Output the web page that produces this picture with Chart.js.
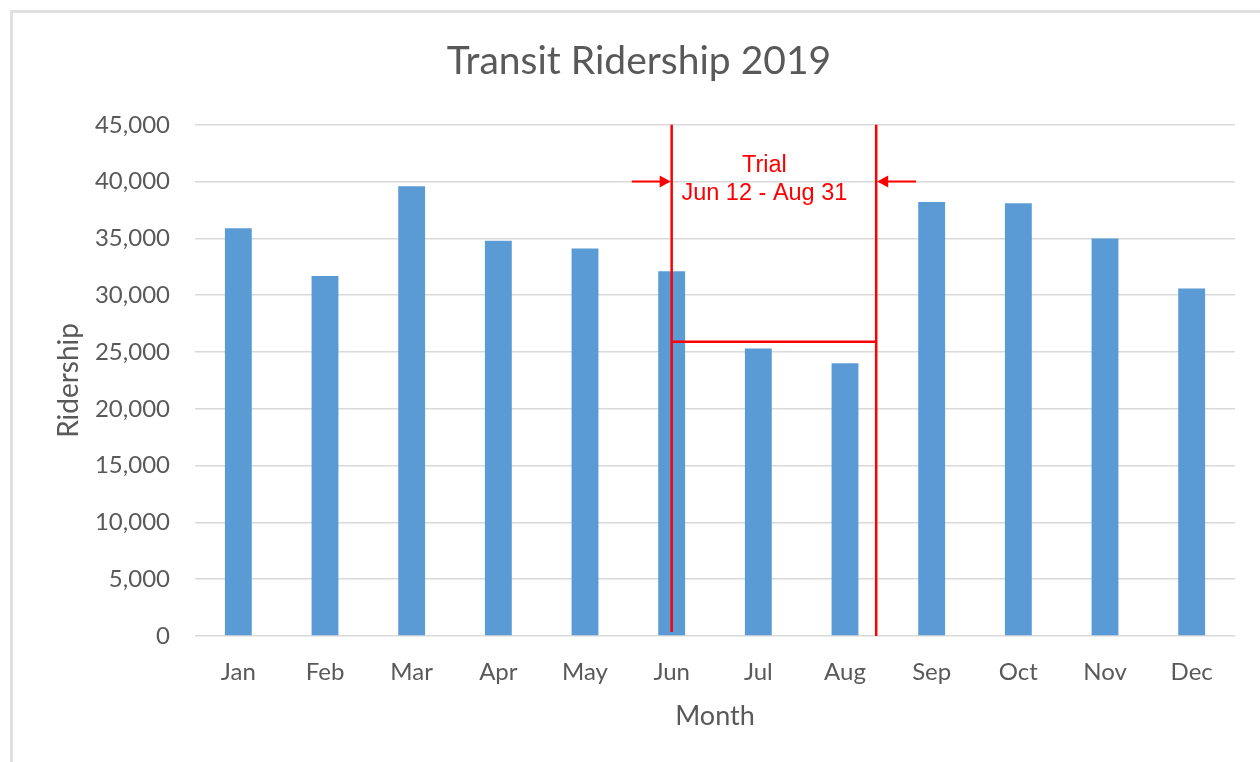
<!DOCTYPE html>
<html>
<head>
<meta charset="utf-8">
<script src="https://cdn.jsdelivr.net/npm/chart.js@4.4.1/dist/chart.umd.min.js"></script>
<style>
  html, body { margin: 0; padding: 0; background: #fff; overflow: hidden; }
  #frame {
    position: absolute; left: 10px; top: 10px;
    width: 1300px; height: 800px;
    border: 3px solid #e0e0e0;
  }
  #wrap { position: absolute; left: 0; top: 0; width: 1260px; height: 762px; }
</style>
</head>
<body>
<div id="frame"></div>
<div id="wrap"><canvas id="chart"></canvas></div>
<script>
const months = ['Jan', 'Feb', 'Mar', 'Apr', 'May', 'Jun', 'Jul', 'Aug', 'Sep', 'Oct', 'Nov', 'Dec'];
const ridership = [35900, 31700, 39600, 34800, 34100, 32100, 25300, 24000, 38200, 38100, 35000, 30600];

// trial period marker, in category index units / ridership units
const trialStart = 5;
const trialEnd = 7.36;
const trialAverage = 25900;
const arrowLevel = 40000;
const trialLabel = ['Trial', 'Jun 12 - Aug 31'];

const gray = '#595959';
const red = '#ff0000';

const trialMarker = {
  id: 'trialMarker',
  afterDatasetsDraw(chart) {
    const { ctx, scales: { x, y } } = chart;
    const x1 = x.getPixelForValue(trialStart);
    const x2 = x.getPixelForValue(trialEnd);
    const yTop = y.getPixelForValue(45000);
    const yBottom = y.getPixelForValue(0);
    const yAvg = y.getPixelForValue(trialAverage);
    const yArrow = y.getPixelForValue(arrowLevel);
    const arrowLen = x.getPixelForValue(0.46) - x.getPixelForValue(0);

    ctx.save();
    ctx.strokeStyle = red;
    ctx.fillStyle = red;
    ctx.lineWidth = 2.5;

    ctx.beginPath();
    ctx.moveTo(x1, yTop);
    ctx.lineTo(x1, yBottom - 4);
    ctx.moveTo(x2, yTop);
    ctx.lineTo(x2, yBottom);
    ctx.moveTo(x1, yAvg);
    ctx.lineTo(x2, yAvg);
    ctx.stroke();

    // arrows pointing at the two lines
    ctx.lineWidth = 2;
    ctx.beginPath();
    ctx.moveTo(x1 - arrowLen, yArrow);
    ctx.lineTo(x1 - 8, yArrow);
    ctx.moveTo(x2 + arrowLen, yArrow);
    ctx.lineTo(x2 + 8, yArrow);
    ctx.stroke();

    ctx.beginPath();
    ctx.moveTo(x1 - 1, yArrow);
    ctx.lineTo(x1 - 12, yArrow - 6);
    ctx.lineTo(x1 - 12, yArrow + 6);
    ctx.closePath();
    ctx.fill();
    ctx.beginPath();
    ctx.moveTo(x2 + 1, yArrow);
    ctx.lineTo(x2 + 12, yArrow - 6);
    ctx.lineTo(x2 + 12, yArrow + 6);
    ctx.closePath();
    ctx.fill();

    ctx.font = '23.5px "Liberation Sans", Arial, sans-serif';
    ctx.textAlign = 'center';
    ctx.textBaseline = 'middle';
    const tx = x.getPixelForValue(6.07);
    ctx.fillText(trialLabel[0], tx, yArrow - 16);
    ctx.fillText(trialLabel[1], tx, yArrow + 12);
    ctx.restore();
  }
};

new Chart(document.getElementById('chart'), {
  type: 'bar',
  data: {
    labels: months,
    datasets: [{
      label: 'Ridership',
      data: ridership,
      backgroundColor: '#5b9bd5',
      barPercentage: 0.31,
      categoryPercentage: 1
    }]
  },
  options: {
    responsive: true,
    maintainAspectRatio: false,
    animation: false,
    layout: { padding: { left: 43, right: 25, top: 0, bottom: 0 } },
    plugins: {
      legend: { display: false },
      tooltip: { enabled: false },
      title: {
        display: true,
        text: 'Transit Ridership 2019',
        color: gray,
        font: { family: 'Lato', size: 39, weight: 'normal' },
        padding: { top: 38, bottom: 40 }
      }
    },
    scales: {
      x: {
        grid: { display: false },
        border: { display: false },
        ticks: {
          color: gray,
          font: { family: 'Lato', size: 24 },
          padding: 14,
          maxRotation: 0
        },
        title: {
          display: true,
          text: 'Month',
          color: gray,
          font: { family: 'Lato', size: 27 },
          padding: { top: 0, bottom: 30 }
        },
        afterFit(scale) { scale.height = 126; }
      },
      y: {
        min: 0,
        max: 45000,
        grid: { color: '#d9d9d9', lineWidth: 1.5, drawTicks: false },
        border: { display: false },
        ticks: {
          stepSize: 5000,
          color: gray,
          font: { family: 'Lato', size: 24 },
          padding: 25
        },
        title: {
          display: true,
          text: 'Ridership',
          color: gray,
          font: { family: 'Lato', size: 28 },
          padding: { top: 9, bottom: 0 }
        },
        afterFit(scale) { scale.width = 152; }
      }
    }
  },
  plugins: [trialMarker]
});
</script>
</body>
</html>
